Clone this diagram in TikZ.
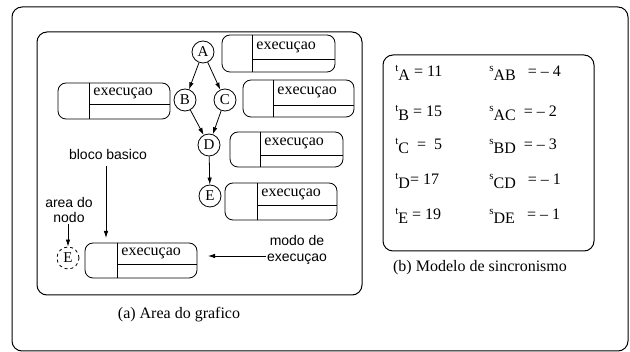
\documentclass[tikz,border=0pt]{standalone}
\usepackage{fontspec}
\setmainfont{Liberation Serif}
\setsansfont{Liberation Sans}
\usetikzlibrary{arrows.meta}

% t/s with raised letter and lowered index
\newcommand{\ts}[2]{\raisebox{5pt}{\fontsize{11}{11}\selectfont #1}\raisebox{-4pt}{#2}}
% name, left, top, right, bottom, divider, line
\newcommand{\bloco}[7]{%
  \draw[blk] (#2,#3) rectangle (#4,#5);
  \draw (#6,#3) -- (#6,#5);
  \draw (#6,#7) -- (#4,#7);
  \node[exe] (#1) at (#6+4,{(#3+#7)/2}) {execuçao};
}

\begin{document}
\begin{tikzpicture}[x=1pt, y=-1pt, line width=0.8pt,
    nodo/.style={draw, circle, minimum size=22pt, inner sep=0pt, font=\fontsize{15}{15}\selectfont},
    blk/.style={rounded corners=8pt},
    moldura/.style={line width=1pt, rounded corners=10pt},
    exe/.style={anchor=west, inner sep=0pt, font=\fontsize{16}{16}\selectfont},
    rot/.style={font=\sffamily\fontsize{14}{15.5}\selectfont, align=center, inner sep=1pt},
    lin/.style={anchor=west, inner sep=0pt, font=\fontsize{16}{16}\selectfont},
    leg/.style={font=\fontsize{16}{16}\selectfont},
    arr/.style={-{Latex[length=7pt,width=4.5pt]}}]
  \useasboundingbox (0,0) rectangle (630,352);

  % molduras
  \draw[moldura] (12,7) rectangle (628,351);
  \draw[moldura] (37,32) rectangle (362,295);
  \draw[moldura] (383,55) rectangle (594,251);

  % (a) grafo
  \node[nodo] (A) at (203,52) {A};
  \node[nodo] (B) at (185,100) {B};
  \node[nodo] (C) at (225,100) {C};
  \node[nodo] (D) at (209,145) {D};
  \node[nodo] (E) at (210,196) {E};
  \draw[arr]
      (A) edge (B)
      (A) edge (C)
      (B) edge (D)
      (C) edge (D)
      (D) edge (E);

  \bloco{xA}{222}{35}{335}{72}{252}{59}
  \bloco{xB}{58}{83}{170}{119}{89}{104}
  \bloco{xC}{243}{80}{354}{117}{273}{105}
  \bloco{xD}{230}{132}{343}{167}{260}{155}
  \bloco{xE}{225}{183}{337}{220}{257}{205}

  % legenda
  \node[nodo, dashed] (Ex) at (68,258) {E};
  \bloco{xL}{85}{243}{197}{278}{117}{264}
  \node[rot] (bloco) at (108,155) {bloco basico};
  \node[rot] (area) at (69,210) {area do\\nodo};
  \node[rot] (modo) at (297,250) {modo de\\execuçao};
  \coordinate (pb) at (106,238);
  \coordinate (pm) at (208,256);
  \draw[arr] (bloco.south -| pb) ++(0,4) -- (pb);
  \draw[arr] (area.south -| Ex) -- (Ex);
  \draw[arr] (modo.west |- pm) -- (pm);
  \node[leg] (capa) at (179,315) {(a) Area do grafico};

  % (b) sincronismo
  \node[lin] (tA) at (395,73) {\ts{t}{A} = 11};
  \node[lin] (tB) at (395,113) {\ts{t}{B} = 15};
  \node[lin] (tC) at (395,146) {\ts{t}{C} ~= ~5};
  \node[lin] (tD) at (395,181) {\ts{t}{D}= 17};
  \node[lin] (tE) at (395,216) {\ts{t}{E} = 19};
  \node[lin] (sAB) at (489,73) {\ts{s}{AB} ~ = -- 4};
  \node[lin] (sAC) at (489,113) {\ts{s}{AC} ~= -- 2};
  \node[lin] (sBD) at (489,146) {\ts{s}{BD} ~= -- 3};
  \node[lin] (sCD) at (489,181) {\ts{s}{CD} ~ = -- 1};
  \node[lin] (sDE) at (489,216) {\ts{s}{DE} ~ = -- 1};
  \node[leg] (capb) at (480,268) {(b) Modelo de sincronismo};
\end{tikzpicture}
\end{document}
